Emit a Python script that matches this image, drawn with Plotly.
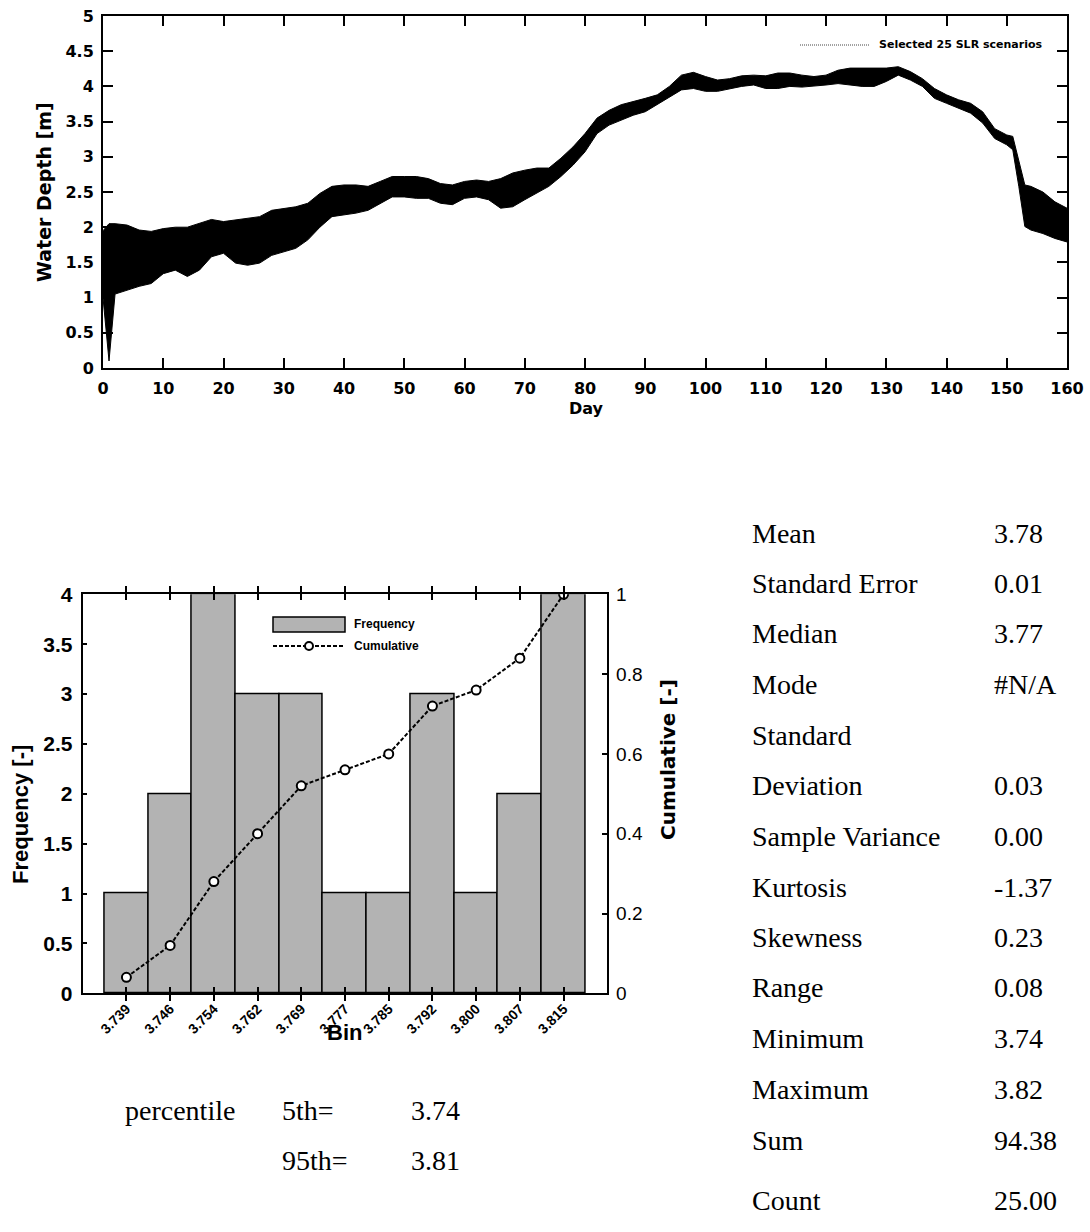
import plotly.graph_objects as go

# ---------------- data ----------------
# Top chart: envelope of the 25 selected SLR scenarios (water depth, m)
days = [0, 1, 2, 4, 6, 8, 10, 12, 14, 16, 18, 20, 22, 24, 26, 28, 30, 32, 34, 36, 38, 40,
        42, 44, 46, 48, 50, 52, 54, 56, 58, 60, 62, 64, 66, 68, 70, 72, 74, 76, 78, 80,
        82, 84, 86, 88, 90, 92, 94, 96, 98, 100, 102, 104, 106, 108, 110, 112, 114, 116,
        118, 120, 122, 124, 126, 128, 130, 132, 134, 136, 138, 140, 142, 144, 146, 148,
        150, 151, 152, 153, 154, 156, 158, 160]
depth_upper = [1.95, 2.05, 2.05, 2.03, 1.96, 1.94, 1.98, 2.0, 2.0, 2.05, 2.11, 2.08, 2.1, 2.13,
               2.15, 2.24, 2.27, 2.29, 2.34, 2.48, 2.58, 2.6, 2.6, 2.58, 2.65, 2.72, 2.72, 2.72,
               2.69, 2.62, 2.6, 2.65, 2.67, 2.65, 2.69, 2.77, 2.81, 2.84, 2.84, 2.98, 3.14, 3.33,
               3.55, 3.66, 3.74, 3.78, 3.83, 3.88, 4.0, 4.16, 4.2, 4.14, 4.09, 4.11, 4.15, 4.16,
               4.15, 4.19, 4.19, 4.16, 4.14, 4.16, 4.23, 4.26, 4.26, 4.26, 4.26, 4.28, 4.21, 4.11,
               3.97, 3.88, 3.81, 3.76, 3.64, 3.4, 3.31, 3.29, 2.95, 2.6, 2.58, 2.5, 2.36, 2.27]
depth_lower = [1.0, 0.1, 1.05, 1.11, 1.16, 1.2, 1.34, 1.39, 1.3, 1.39, 1.58, 1.63, 1.49, 1.46,
               1.49, 1.6, 1.65, 1.7, 1.82, 2.0, 2.15, 2.17, 2.2, 2.24, 2.34, 2.43, 2.43, 2.41,
               2.41, 2.34, 2.32, 2.41, 2.43, 2.39, 2.27, 2.29, 2.39, 2.48, 2.58, 2.72, 2.88, 3.07,
               3.33, 3.45, 3.52, 3.59, 3.64, 3.74, 3.85, 3.95, 3.97, 3.93, 3.93, 3.97, 4.0, 4.02,
               3.97, 3.97, 4.0, 3.99, 4.0, 4.02, 4.04, 4.02, 4.0, 4.0, 4.07, 4.16, 4.09, 4.0,
               3.83, 3.76, 3.69, 3.62, 3.48, 3.26, 3.17, 3.1, 2.58, 2.01, 1.96, 1.91, 1.84, 1.79]

# Histogram
bins = ["3.739", "3.746", "3.754", "3.762", "3.769", "3.777", "3.785", "3.792", "3.800", "3.807", "3.815"]
frequency = [1, 2, 4, 3, 3, 1, 1, 3, 1, 2, 4]
cumulative = [0.04, 0.12, 0.28, 0.40, 0.52, 0.56, 0.60, 0.72, 0.76, 0.84, 1.00]

# Descriptive statistics table
stat_labels = ["Mean", "Standard Error", "Median", "Mode", "Standard", "Deviation",
               "Sample Variance", "Kurtosis", "Skewness", "Range", "Minimum", "Maximum",
               "Sum", "Count"]
stat_values = ["3.78", "0.01", "3.77", "#N/A", "", "0.03", "0.00", "-1.37", "0.23",
               "0.08", "3.74", "3.82", "94.38", "25.00"]
pct_labels = ["5th=", "95th="]
pct_values = ["3.74", "3.81"]

# ---------------- layout helpers ----------------
W, H = 1090, 1232


def fx(p):
    return p / W


def fy(p):
    return 1 - p / H


SANS = "DejaVu Sans"
ARIAL = "Liberation Sans"
SERIF = "Liberation Serif"

fig = go.Figure()

# Top chart band
fig.add_trace(go.Scatter(x=days, y=depth_lower, mode="lines", xaxis="x", yaxis="y",
                         line=dict(color="black", width=1), showlegend=False, hoverinfo="skip"))
fig.add_trace(go.Scatter(x=days, y=depth_upper, mode="lines", xaxis="x", yaxis="y",
                         fill="tonexty", fillcolor="black",
                         line=dict(color="black", width=1), showlegend=False,
                         name="Selected 25 SLR scenarios"))

# Histogram
fig.add_trace(go.Bar(x=bins, y=frequency, xaxis="x2", yaxis="y2", width=1,
                     marker=dict(color="#b3b3b3", line=dict(color="black", width=1.5)),
                     showlegend=False, name="Frequency"))
fig.add_trace(go.Scatter(x=bins, y=cumulative, xaxis="x2", yaxis="y3", mode="lines+markers",
                         line=dict(color="black", width=2, dash="4px,2px"),
                         marker=dict(symbol="circle", size=9, color="white",
                                     line=dict(color="black", width=2)),
                         showlegend=False, name="Cumulative"))

axis_common = dict(showline=True, linecolor="black", linewidth=2, showgrid=False,
                   zeroline=False, ticks="inside", tickcolor="black", automargin=False)

fig.update_layout(
    template="none",
    width=W, height=H, margin=dict(l=0, r=0, t=0, b=0, pad=0, autoexpand=False),
    paper_bgcolor="white", plot_bgcolor="white", showlegend=False, bargap=0,
    xaxis=dict(domain=[fx(103), fx(1067)], anchor="y", range=[0, 160], dtick=10, tick0=0,
               ticklen=10, tickwidth=1.5, mirror="allticks", ticklabelstandoff=5,
               tickfont=dict(family=SANS, size=16, color="black", weight="bold"),
               **axis_common),
    yaxis=dict(domain=[fy(368), fy(16)], anchor="x", range=[0, 5], dtick=0.5, tick0=0,
               ticklen=10, tickwidth=1.5, mirror="allticks", ticklabelstandoff=4,
               tickfont=dict(family=SANS, size=16, color="black", weight="bold"),
               **axis_common),
    xaxis2=dict(domain=[fx(82.7), fx(607.3)], anchor="y2", type="category", range=[-1, 11],
                ticklen=6, tickwidth=1.5, mirror="allticks", tickangle=-45,
                tickfont=dict(family=ARIAL, size=14, color="black", weight="bold"),
                **axis_common),
    yaxis2=dict(domain=[fy(993.3), fy(594.3)], anchor="x2", range=[0, 4], dtick=0.5, tick0=0,
                ticklen=4, tickwidth=1.5, ticklabelstandoff=4,
                tickfont=dict(family=ARIAL, size=21, color="black", weight="bold"),
                **axis_common),
    yaxis3=dict(overlaying="y2", anchor="x2", side="right", range=[0, 1], dtick=0.2, tick0=0,
                ticklen=5, tickwidth=1.5, ticklabelstandoff=3,
                tickfont=dict(family=ARIAL, size=19, color="black"),
                **axis_common),
)

annotations = []
shapes = []

# Top chart titles
annotations.append(dict(x=fx(44), y=fy(192), xref="paper", yref="paper", text="Water Depth [m]",
                        textangle=-90, showarrow=False, xanchor="center", yanchor="middle",
                        font=dict(family=SANS, size=19, color="black", weight="bold")))
annotations.append(dict(x=fx(586), y=fy(409), xref="paper", yref="paper", text="Day",
                        showarrow=False, xanchor="center", yanchor="middle",
                        font=dict(family=SANS, size=16, color="black", weight="bold")))
# Top chart legend
shapes.append(dict(type="line", xref="paper", yref="paper", x0=fx(800), x1=fx(870),
                   y0=fy(45), y1=fy(45), line=dict(color="#444444", width=1, dash="1px,1px")))
annotations.append(dict(x=fx(877), y=fy(45), xref="paper", yref="paper",
                        text="Selected 25 SLR scenarios", showarrow=False,
                        xanchor="left", yanchor="middle",
                        font=dict(family=SANS, size=11, color="black", weight="bold")))

# Histogram titles
annotations.append(dict(x=fx(20), y=fy(815), xref="paper", yref="paper", text="Frequency [-]",
                        textangle=-90, showarrow=False, xanchor="center", yanchor="middle",
                        font=dict(family=ARIAL, size=22, color="black", weight="bold")))
annotations.append(dict(x=fx(668), y=fy(760), xref="paper", yref="paper", text="Cumulative [-]",
                        textangle=-90, showarrow=False, xanchor="center", yanchor="middle",
                        font=dict(family=SANS, size=20, color="black", weight="bold")))
annotations.append(dict(x=fx(344), y=fy(1032), xref="paper", yref="paper", text="Bin",
                        showarrow=False, xanchor="center", yanchor="middle",
                        font=dict(family=ARIAL, size=22, color="black", weight="bold")))

# Histogram legend
shapes.append(dict(type="rect", xref="paper", yref="paper", x0=fx(273), x1=fx(345),
                   y0=fy(632), y1=fy(617), fillcolor="#b3b3b3",
                   line=dict(color="black", width=1.5)))
annotations.append(dict(x=fx(352), y=fy(624), xref="paper", yref="paper", text="Frequency",
                        showarrow=False, xanchor="left", yanchor="middle",
                        font=dict(family=ARIAL, size=12, color="black", weight="bold")))
shapes.append(dict(type="line", xref="paper", yref="paper", x0=fx(273), x1=fx(345),
                   y0=fy(646), y1=fy(646), line=dict(color="black", width=2, dash="4px,2px")))
shapes.append(dict(type="circle", xref="paper", yref="paper", x0=fx(305), x1=fx(313),
                   y0=fy(650), y1=fy(642), fillcolor="white",
                   line=dict(color="black", width=2)))
annotations.append(dict(x=fx(352), y=fy(646), xref="paper", yref="paper", text="Cumulative",
                        showarrow=False, xanchor="left", yanchor="middle",
                        font=dict(family=ARIAL, size=12, color="black", weight="bold")))

# Statistics table
row_y = [533, 583, 633, 684, 735, 785, 836, 887, 937, 987, 1038, 1089, 1140, 1200]
for lab, val, yy in zip(stat_labels, stat_values, row_y):
    annotations.append(dict(x=fx(750), y=fy(yy), xref="paper", yref="paper", text=lab,
                            showarrow=False, xanchor="left", yanchor="middle",
                            font=dict(family=SERIF, size=28, color="black")))
    if val:
        annotations.append(dict(x=fx(992), y=fy(yy), xref="paper", yref="paper", text=val,
                                showarrow=False, xanchor="left", yanchor="middle",
                                font=dict(family=SERIF, size=28, color="black")))

# Percentiles
annotations.append(dict(x=fx(123), y=fy(1110), xref="paper", yref="paper", text="percentile",
                        showarrow=False, xanchor="left", yanchor="middle",
                        font=dict(family=SERIF, size=28, color="black")))
for lab, val, yy in zip(pct_labels, pct_values, [1110, 1160]):
    annotations.append(dict(x=fx(280), y=fy(yy), xref="paper", yref="paper", text=lab,
                            showarrow=False, xanchor="left", yanchor="middle",
                            font=dict(family=SERIF, size=28, color="black")))
    annotations.append(dict(x=fx(409), y=fy(yy), xref="paper", yref="paper", text=val,
                            showarrow=False, xanchor="left", yanchor="middle",
                            font=dict(family=SERIF, size=28, color="black")))

fig.update_layout(annotations=annotations, shapes=shapes)

fig.write_html("out.html", config={"displayModeBar": False},
               post_script="document.body.style.margin='0';document.body.style.overflow='hidden';")
